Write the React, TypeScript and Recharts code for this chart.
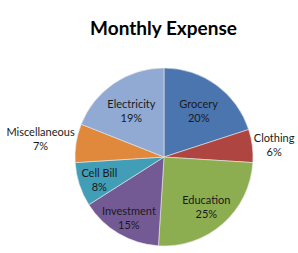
import { PieChart, Pie, Cell } from 'recharts';

const categories = ['Grocery', 'Clothing', 'Education', 'Investment', 'Cell Bill', 'Miscellaneous', 'Electricity'];
const amounts = [20, 6, 25, 15, 8, 7, 19];
const colors = ['#4A75AE', '#AE4541', '#8DAE50', '#745A95', '#429EB7', '#E0893C', '#90AAD3'];

// how far from the centre each label sits (outside for the thin slices)
const labelRadius: { [key: string]: number } = {
  Grocery: 59,
  Clothing: 111,
  Education: 64,
  Investment: 69,
  'Cell Bill': 68,
  Miscellaneous: 125,
  Electricity: 58,
};

const RADIAN = Math.PI / 180;

const renderLabel = (props: any) => {
  const { cx, cy, midAngle, percent, name } = props;
  const r = labelRadius[name] ?? 60;
  const x = cx + r * Math.cos(-midAngle * RADIAN);
  const y = cy + r * Math.sin(-midAngle * RADIAN);
  return (
    <text x={x} y={y} textAnchor="middle" fill="#1a1a1a" fontSize={11} fontFamily="Lato, sans-serif">
      <tspan x={x} dy={-1}>{name}</tspan>
      <tspan x={x} dy={14}>{`${Math.round(percent * 100)}%`}</tspan>
    </text>
  );
};

export default function App() {
  const data = categories.map((name, i) => ({ name, value: amounts[i] }));

  return (
    <div style={{ position: 'absolute', left: 0, top: 0, width: 298, height: 253, background: '#fff' }}>
      <div
        style={{
          position: 'absolute',
          left: 0,
          top: 16,
          width: 327,
          textAlign: 'center',
          fontFamily: 'Lato, sans-serif',
          fontWeight: 'bold',
          fontSize: 19,
          lineHeight: '24px',
          color: '#000',
        }}
      >
        Monthly Expense
      </div>
      <PieChart width={298} height={253} margin={{ top: 0, right: 0, bottom: 0, left: 0 }}>
        <Pie
          data={data}
          dataKey="value"
          nameKey="name"
          cx={164}
          cy={157}
          outerRadius={89}
          startAngle={90}
          endAngle={-270}
          stroke="#e8e8e8"
          strokeWidth={0.6}
          label={renderLabel}
          labelLine={false}
          isAnimationActive={false}
        >
          {data.map((d, i) => (
            <Cell key={d.name} fill={colors[i]} />
          ))}
        </Pie>
      </PieChart>
    </div>
  );
}
